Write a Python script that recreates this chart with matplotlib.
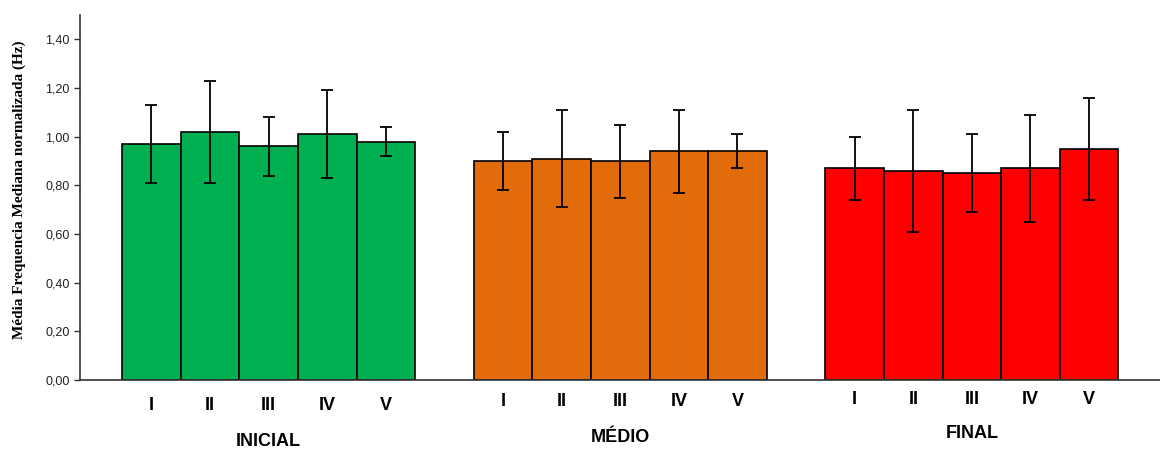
import numpy as np
import matplotlib
matplotlib.use("Agg")
import matplotlib.pyplot as plt
from matplotlib import transforms

# data
groups = ["INICIAL", "MÉDIO", "FINAL"]
subjects = ["I", "II", "III", "IV", "V"]
inicial_mean = [0.97, 1.02, 0.96, 1.01, 0.98]
inicial_sd = [0.16, 0.21, 0.12, 0.18, 0.06]
medio_mean = [0.90, 0.91, 0.90, 0.94, 0.94]
medio_sd = [0.12, 0.20, 0.15, 0.17, 0.07]
final_mean = [0.87, 0.86, 0.85, 0.87, 0.95]
final_sd = [0.13, 0.25, 0.16, 0.22, 0.21]
colors = ["#00AF50", "#E36C0A", "#FF0000"]

means = [inicial_mean, medio_mean, final_mean]
sds = [inicial_sd, medio_sd, final_sd]

fig = plt.figure(figsize=(11.6, 4.5), dpi=100)
ax = fig.add_axes([80 / 1160, 70 / 450, 1080 / 1160, 365 / 450])

# small vertical drift of the labels, as in the original
tick_y = [405, 402, 399]
group_y = [441, 437, 433]
trans = transforms.blended_transform_factory(ax.transData, fig.transFigure)

n = len(subjects)
for g in range(len(groups)):
    x = np.arange(n) + g * (n + 1)
    ax.bar(x, means[g], width=1.0, color=colors[g], edgecolor="black",
           linewidth=1.2, zorder=2)
    ax.errorbar(x, means[g], yerr=sds[g], fmt="none", ecolor="black",
                elinewidth=1.3, capsize=4, capthick=1.3, zorder=3)
    for xi, lab in zip(x, subjects):
        ax.text(xi, 1 - tick_y[g] / 450, lab, transform=trans,
                ha="center", va="center", fontsize=13, fontweight="bold",
                family="Liberation Sans")
    ax.text(x.mean(), 1 - group_y[g] / 450, groups[g], transform=trans,
            ha="center", va="center", fontsize=13, fontweight="bold",
            family="Liberation Sans")

ax.set_xlim(-1.22, 17.21)
ax.set_ylim(0, 1.5)
ax.set_yticks(np.arange(0, 1.41, 0.2))
ax.set_yticklabels([f"{v:.2f}".replace(".", ",") for v in np.arange(0, 1.41, 0.2)],
                   fontsize=9, family="Liberation Sans", color="#222222")
ax.set_xticks([])
ax.tick_params(axis="y", direction="out", length=4, width=1, color="#333333")

for side in ["top", "right"]:
    ax.spines[side].set_visible(False)
for side in ["left", "bottom"]:
    ax.spines[side].set_color("#333333")
    ax.spines[side].set_linewidth(1.2)

ax.set_ylabel("Média Frequencia Mediana normalizada (Hz)", fontsize=11,
              fontweight="bold", family="Liberation Serif")
ax.yaxis.set_label_coords(-54 / 1080, 0.52)

fig.savefig("out.png", dpi=100)
